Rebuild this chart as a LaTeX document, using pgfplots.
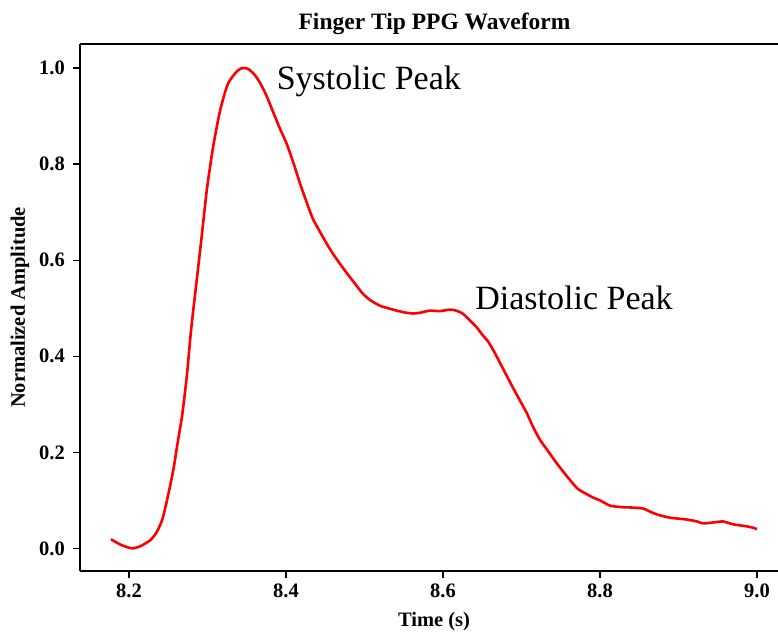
\documentclass[border=0pt]{standalone}
\usepackage{pgfplots}
\pgfplotsset{compat=1.18}
\usepackage{fontspec}
\setmainfont{Liberation Serif}
\begin{document}
\begin{tikzpicture}
\begin{axis}[
  at={(0,0)}, anchor=south west,
  scale only axis,
  width=698pt, height=527pt,
  xmin=8.1376, xmax=9.0268,
  ymin=-0.047, ymax=1.05,
  axis y line=left, axis x line=box,
  axis line style={-, black, line width=1.3pt},
  xtick={8.2,8.4,8.6,8.8,9.0},
  ytick={0,0.2,0.4,0.6,0.8,1.0},
  xtick pos=bottom, ytick pos=left,
  tick align=outside,
  major tick length=7pt,
  every tick/.style={black, line width=1.2pt},
  /pgf/number format/assume math mode=true,
  /pgf/number format/.cd, fixed, fixed zerofill, precision=1, /pgfplots/.cd,
  ticklabel style={font=\fontsize{20.5}{24}\selectfont\bfseries, inner sep=0pt},
  xticklabel style={anchor=base, yshift=-20pt},
  yticklabel style={anchor=east, xshift=-8pt},
  title={Finger Tip PPG Waveform},
  title style={at={(rel axis cs:0.5,1)}, anchor=base, yshift=8pt, xshift=5.5pt, inner sep=0pt, font=\fontsize{23.5}{28}\selectfont\bfseries},
  xlabel={Time (s)},
  xlabel style={at={(rel axis cs:0.5,0)}, anchor=base, yshift=-55pt, xshift=5pt, inner sep=0pt, font=\fontsize{20.5}{24}\selectfont\bfseries},
  ylabel={Normalized Amplitude},
  ylabel style={at={(rel axis cs:0,0.5)}, anchor=base, yshift=55pt, inner sep=0pt, font=\fontsize{20.5}{24}\selectfont\bfseries},
  clip=false,
]
\addplot[red, line width=2.6pt, smooth, tension=0.4, line join=round] coordinates {
(8.177,0.019) (8.189,0.008) (8.197,0.003) (8.205,0.000) (8.215,0.005)
(8.227,0.017) (8.235,0.033) (8.242,0.058) (8.247,0.090) (8.252,0.127)
(8.257,0.168) (8.261,0.210) (8.268,0.280) (8.274,0.364) (8.279,0.453)
(8.285,0.540) (8.292,0.640) (8.299,0.744) (8.307,0.834) (8.316,0.911)
(8.326,0.967) (8.338,0.994) (8.345,1.000) (8.352,0.998) (8.360,0.986)
(8.367,0.969) (8.375,0.943) (8.383,0.911) (8.392,0.875) (8.401,0.842)
(8.410,0.800) (8.418,0.759) (8.426,0.722) (8.434,0.687) (8.443,0.660)
(8.452,0.634) (8.460,0.613) (8.469,0.592) (8.478,0.572) (8.488,0.551)
(8.498,0.530) (8.508,0.516) (8.520,0.505) (8.530,0.500) (8.541,0.495)
(8.552,0.491) (8.562,0.489) (8.572,0.491) (8.583,0.495) (8.596,0.494)
(8.609,0.497) (8.617,0.495) (8.625,0.489) (8.634,0.475) (8.643,0.460)
(8.651,0.443) (8.657,0.432) (8.665,0.410) (8.673,0.385) (8.681,0.360)
(8.689,0.335) (8.698,0.308) (8.707,0.281) (8.715,0.252) (8.724,0.225)
(8.735,0.200) (8.745,0.177) (8.758,0.150) (8.771,0.125) (8.781,0.115)
(8.791,0.106) (8.800,0.100) (8.813,0.089) (8.827,0.086) (8.842,0.085)
(8.855,0.083) (8.866,0.075) (8.876,0.069) (8.889,0.064) (8.900,0.062)
(8.911,0.060) (8.924,0.056) (8.931,0.052) (8.944,0.054) (8.957,0.056)
(8.970,0.050) (8.987,0.046) (8.995,0.043) (9.000,0.040)
};
\node[anchor=base west, inner sep=0pt, font=\fontsize{34}{40}\selectfont] at (axis cs:8.388,0.955) {Systolic Peak};
\node[anchor=base west, inner sep=0pt, font=\fontsize{34}{40}\selectfont] at (axis cs:8.641,0.497) {Diastolic Peak};
\end{axis}
\pgfresetboundingbox
\useasboundingbox (-80pt,-60pt) rectangle (698pt,571pt);
\end{tikzpicture}
\end{document}
